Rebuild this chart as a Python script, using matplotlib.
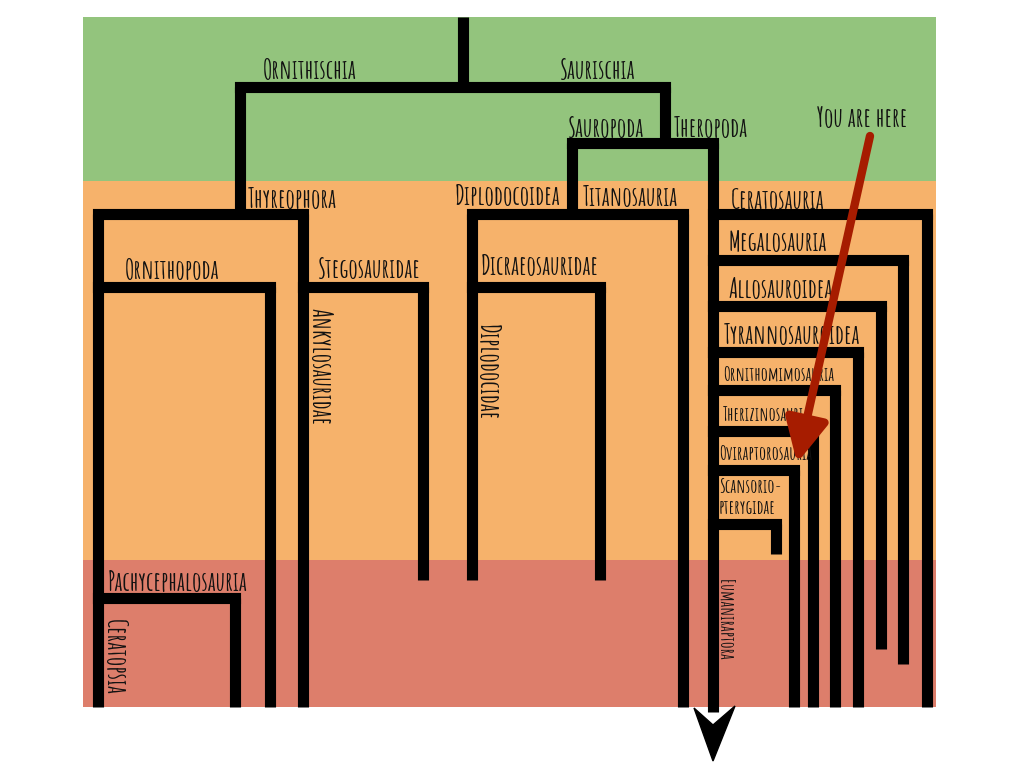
import matplotlib.pyplot as plt
from matplotlib.patches import Polygon, Rectangle

# background bands: (top, bottom, colour)
band_tops = [17, 181, 560]
band_bottoms = [181, 560, 707]
band_colors = ["#93c47d", "#f6b26b", "#dd7e6b"]
band_left, band_right = 83, 936

# tree: horizontal bars (y, x0, x1)
hbar_y = [87, 143, 214, 214, 287, 287, 598, 287,
          214, 260, 306, 352, 390, 431, 470, 524]
hbar_x0 = [240, 572, 98, 472, 98, 303, 98, 472,
           713, 713, 713, 713, 713, 713, 713, 713]
hbar_x1 = [665, 713, 303, 683, 270, 423, 235, 600,
           927, 903, 881, 858, 835, 813, 794, 776]

# tree: vertical stems (x, y0, y1)
vstem_x = [463, 240, 665, 572, 98, 270, 235, 303, 423,
           472, 600, 683, 927, 903, 881, 858, 835, 813, 794, 776]
vstem_y0 = [17, 87, 87, 143, 214, 287, 598, 214, 287,
            214, 287, 214, 214, 260, 306, 352, 390, 431, 470, 524]
vstem_y1 = [87, 214, 143, 214, 707, 707, 707, 707, 580,
            580, 580, 707, 707, 664, 649, 707, 707, 707, 707, 554]

# Theropoda main stem ending in an arrow
thero_x, thero_top, thero_bottom, arrow_tip = 713, 143, 712, 761

# labels
lab_names = ["Ornithischia", "Saurischia", "Sauropoda", "Theropoda",
             "Thyreophora", "Diplodocoidea", "Titanosauria", "Ceratosauria",
             "Megalosauria", "Allosauroidea", "Tyrannosauroidea",
             "Ornithomimosauria", "Therizinosauria", "Oviraptorosauria",
             "Scansorio-\npterygidae", "Ornithopoda", "Stegosauridae",
             "Dicraeosauridae", "Pachycephalosauria", "You are here"]
lab_x = [263, 560, 568, 674, 248, 455, 583, 731, 729, 729, 724,
         723, 723, 719, 719, 125, 318, 481, 108, 817]
lab_y = [69, 69, 127, 127, 198, 195, 196, 199, 241, 288, 334,
         373, 414, 453, 496, 269, 268, 265, 581, 117]
lab_size = [19, 19, 19, 19, 19, 19, 19, 19, 19, 19, 19,
            14, 14, 14, 14, 19, 19, 19, 19, 19]

vlab_names = ["Ankylosauridae", "Diplodocidae", "Ceratopsia", "Eumaniraptora"]
vlab_x = [322, 489, 116, 727]
vlab_top = [308, 324, 619, 579]
vlab_size = [19, 19, 19, 13.5]

# "you are here" pointer
pointer_start = (870, 136)
pointer_end = (797, 463)

fig = plt.figure(figsize=(10.24, 7.68), dpi=100)
ax = fig.add_axes([0, 0, 1, 1])
ax.set_xlim(0, 1024)
ax.set_ylim(768, 0)
ax.axis("off")

for top, bot, col in zip(band_tops, band_bottoms, band_colors):
    ax.add_patch(Rectangle((band_left, top), band_right - band_left, bot - top,
                           facecolor=col, edgecolor="none", zorder=0))

lw = 8
for y, x0, x1 in zip(hbar_y, hbar_x0, hbar_x1):
    ax.plot([x0, x1], [y, y], color="black", lw=lw,
            solid_capstyle="projecting", zorder=2)
for x, y0, y1 in zip(vstem_x, vstem_y0, vstem_y1):
    ax.plot([x, x], [y0, y1], color="black", lw=lw,
            solid_capstyle="butt", zorder=2)

ax.plot([thero_x, thero_x], [thero_top, thero_bottom], color="black", lw=lw,
        solid_capstyle="butt", zorder=2)
ax.add_patch(Polygon([(thero_x - 19, thero_bottom - 4), (thero_x, thero_bottom + 13),
                      (thero_x + 22, thero_bottom - 6), (thero_x, arrow_tip)],
                     closed=True, facecolor="black", edgecolor="black", zorder=3))

font = ["Amatic SC", "DejaVu Sans"]
for name, x, y, s in zip(lab_names, lab_x, lab_y, lab_size):
    ax.text(x, y, name, ha="left", va="center", fontsize=s, weight="bold",
            family=font, color="#111111", linespacing=1.55, zorder=4)
for name, x, y, s in zip(vlab_names, vlab_x, vlab_top, vlab_size):
    ax.text(x, y, name, ha="center", va="top", fontsize=s, weight="bold",
            family=font, rotation=-90, color="#111111", zorder=4)

ax.annotate("", xy=pointer_end, xytext=pointer_start,
            arrowprops=dict(arrowstyle="-|>,head_length=2.6,head_width=1.3",
                            color="#a61c00", lw=6, shrinkA=0, shrinkB=0),
            zorder=5)

fig.savefig("out.png", dpi=100)
